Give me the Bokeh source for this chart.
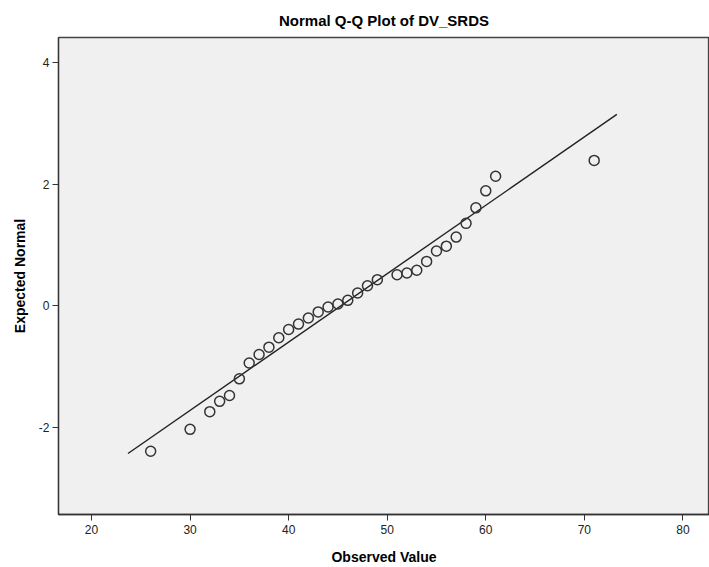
from bokeh.plotting import figure
from bokeh.models import Range1d, FixedTicker, Title
from bokeh.embed import file_html
from bokeh.resources import INLINE

observed = [26, 30, 32, 33, 34, 35, 36, 37, 38, 39, 40, 41, 42, 43, 44, 45, 46,
            47, 48, 49, 51, 52, 53, 54, 55, 56, 57, 58, 59, 60, 61, 71]
expected = [-2.39, -2.03, -1.74, -1.57, -1.475, -1.20, -0.94, -0.80, -0.68, -0.525,
            -0.39, -0.30, -0.20, -0.10, -0.02, 0.03, 0.09, 0.21, 0.33, 0.43,
            0.51, 0.54, 0.585, 0.73, 0.90, 0.98, 1.13, 1.355, 1.61, 1.89, 2.13, 2.39]

# Reference line: expected = (x - mean) / sd
line_mean = 45.3
line_sd = 8.9
line_x = [23.7, 73.3]
line_y = [(v - line_mean) / line_sd for v in line_x]

x_ticks = [20, 30, 40, 50, 60, 70, 80]
y_ticks = [-2, 0, 2, 4]
y_tick_labels = ["-2", "0", "2", "4"]

FONT = "Liberation Sans"

p = figure(width=709, height=567, output_backend="svg", toolbar_location=None,
           x_range=Range1d(16.65, 82.7), y_range=Range1d(-3.43, 4.41),
           min_border_left=58, min_border_right=0, min_border_top=37,
           min_border_bottom=53)

p.title = Title(text="Normal Q-Q Plot of DV_SRDS", align="center",
                text_font=FONT, text_font_size="15px", text_font_style="bold",
                text_color="#000000", offset=0, standoff=18)
p.title.align = "center"

p.background_fill_color = "#F0F0F0"
p.border_fill_color = "white"
p.outline_line_color = "#444444"
p.outline_line_width = 1.3
p.xgrid.visible = False
p.ygrid.visible = False

for ax in (p.xaxis[0], p.yaxis[0]):
    ax.axis_line_color = "#333333"
    ax.axis_line_width = 1.3
    ax.major_tick_line_color = "#333333"
    ax.major_tick_in = 0
    ax.major_tick_out = 6
    ax.minor_tick_line_color = None
    ax.major_label_text_font = FONT
    ax.major_label_text_font_size = "12px"
    ax.major_label_text_color = "#222222"
    ax.axis_label_text_font = FONT
    ax.axis_label_text_font_size = "14px"
    ax.axis_label_text_font_style = "bold"
    ax.axis_label_text_color = "#000000"

p.xaxis.ticker = FixedTicker(ticks=x_ticks)
p.yaxis.ticker = FixedTicker(ticks=y_ticks)
p.yaxis.major_label_overrides = {t: s for t, s in zip(y_ticks, y_tick_labels)}
p.xaxis.axis_label = "Observed Value"
p.yaxis.axis_label = "Expected Normal"
p.xaxis.major_label_standoff = 4
p.xaxis.axis_label_standoff = 12
p.yaxis.major_label_standoff = 3
p.yaxis.axis_label_standoff = 8

p.line(line_x, line_y, line_color="#222222", line_width=1.4)
p.scatter(observed, expected, marker="circle", size=10, fill_color=None,
          line_color="#333333", line_width=1.5)

open("out.html", "w").write(file_html(p, INLINE))
